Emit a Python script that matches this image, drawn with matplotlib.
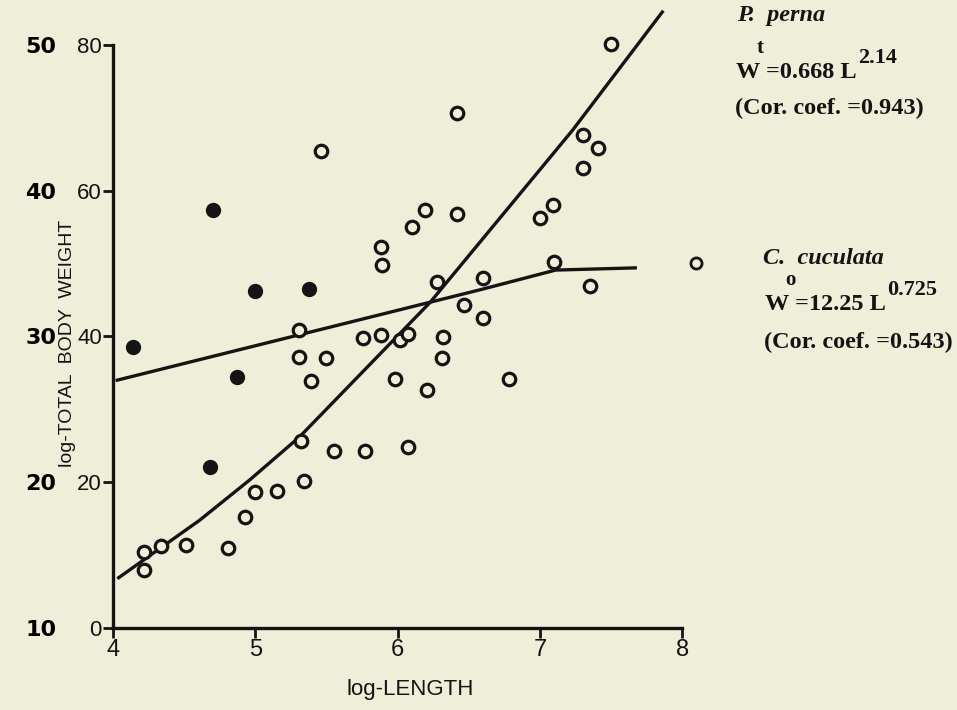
import numpy as np
import matplotlib as mpl

mpl.use('agg')

import matplotlib.pyplot as plt

# log length / log weight points
solid_x = [4.14, 4.70, 4.68, 4.87, 5.00, 5.38]
solid_y = [38.5, 57.3, 22.1, 34.4, 46.2, 46.5]

ring_x = [5.46, 5.31, 5.31, 5.50, 5.39,
          4.22, 4.22, 4.34, 4.51, 4.81, 4.93, 5.00, 5.15, 5.34, 5.32, 5.55, 5.77, 6.07,
          6.42, 5.88, 5.89, 6.10, 6.19, 6.42, 5.76, 5.88, 6.02, 6.07, 6.28, 6.32, 6.31,
          5.98, 6.21, 6.47, 6.60, 6.60, 6.78,
          7.50, 7.30, 7.41, 7.30, 7.00, 7.09, 7.10, 7.35]
ring_y = [65.4, 40.9, 37.2, 37.0, 33.9,
          8.0, 10.4, 11.2, 11.4, 11.0, 15.2, 18.7, 18.8, 20.2, 25.7, 24.3, 24.3, 24.8,
          70.6, 52.3, 49.8, 55.0, 57.3, 56.8, 39.8, 40.2, 39.5, 40.3, 47.5, 39.9, 37.0,
          34.2, 32.6, 44.3, 48.0, 42.5, 34.2,
          80.1, 67.6, 65.8, 63.1, 56.2, 58.0, 50.2, 46.9]

# key symbol next to the C. cuculata caption
key_x = [8.10]
key_y = [50.1]

# fitted curves as drawn
perna_x = [4.04, 4.61, 4.96, 5.31, 6.23, 7.23, 7.86]
perna_y = [6.9, 14.8, 20.3, 26.2, 44.7, 68.3, 84.5]
cucul_x = [4.03, 6.58, 7.11, 7.67]
cucul_y = [34.0, 46.4, 49.1, 49.4]

x_ticks = [4, 5, 6, 7, 8]
y_ticks = [0, 20, 40, 60, 80]
outer_ticks = [10, 20, 30, 40, 50]

paper = '#eeeed9'
ink = '#141414'
sans = 'Liberation Sans'

fig = plt.figure(figsize=(9.57, 7.1), dpi=100, facecolor=paper)
ax = fig.add_axes([0, 0, 1, 1], facecolor=paper)
ax.set_xlim(3.206, 9.931)
ax.set_ylim(-11.25, 86.15)

# axis lines like the hand-drawn ones
for side in ['top', 'right']:
    ax.spines[side].set_visible(False)
ax.spines['left'].set_position(('data', 4))
ax.spines['bottom'].set_position(('data', 0))
ax.spines['left'].set_bounds(0, 80)
ax.spines['bottom'].set_bounds(4, 8)
for side in ['left', 'bottom']:
    ax.spines[side].set_linewidth(2.4)
    ax.spines[side].set_color(ink)

ax.set_xticks(x_ticks)
ax.set_yticks(y_ticks)
ax.tick_params(axis='both', direction='out', length=7, width=2, color=ink,
               labelsize=17, labelcolor=ink, pad=1)
ax.tick_params(axis='y', labelsize=16)
for lab in ax.get_xticklabels() + ax.get_yticklabels():
    lab.set_family(sans)

# outer weight scale
sec = ax.secondary_yaxis(0.059, functions=(lambda y: y / 2 + 10, lambda v: (v - 10) * 2))
sec.set_yticks(outer_ticks)
sec.spines['left'].set_visible(False)
sec.tick_params(length=0, labelsize=16, pad=0)
for lab in sec.get_yticklabels():
    lab.set_fontweight('bold')

ax.plot(perna_x, perna_y, color=ink, lw=2.4, clip_on=False)
ax.plot(cucul_x, cucul_y, color=ink, lw=2.4, clip_on=False)

ax.plot(ring_x, ring_y, 'o', ms=9, mfc=paper, mec=ink, mew=2.3, clip_on=False)
ax.plot(solid_x, solid_y, 'o', ms=9.5, mfc=ink, mec=ink, mew=1.5, clip_on=False)
ax.plot(key_x, key_y, 'o', ms=8, mfc=paper, mec=ink, mew=2, clip_on=False)

fig.text(67 / 957, 1 - 343 / 710, 'log-TOTAL  BODY  WEIGHT', rotation=90,
         ha='center', va='center', fontsize=14, color=ink, family=sans)
fig.text(410 / 957, 1 - 690 / 710, 'log-LENGTH', ha='center', va='center',
         fontsize=16, color=ink, family=sans)

# captions, superscripts kept nearly full size as in the print
serif = dict(family='Liberation Serif', color=ink, fontweight='bold', va='center')
renderer = fig.canvas.get_renderer()


def px(x, y):
    return x / 957, 1 - y / 710


def put(x, y, s, size=17.5, **kw):
    t = fig.text(*px(x, y), s, fontsize=size, **serif, **kw)
    return x + t.get_window_extent(renderer).width


def formula(x, y, coef, expo, sup):
    end_w = put(x, y, 'W')
    put(end_w - 4, y - 24, sup, size=15)
    end = put(end_w + 6, y, coef)
    put(end + 1, y - 14, expo, size=16)


put(737, 15, 'P.  perna', style='italic')
formula(736, 72, '=0.668 L', '2.14', 't')
put(735, 108, '(Cor. coef. =0.943)')

put(763, 258, 'C.  cuculata', style='italic')
formula(765, 304, '=12.25 L', '0.725', 'o')
put(764, 342, '(Cor. coef. =0.543)')

fig.savefig('out.png', dpi=100, facecolor=paper)
